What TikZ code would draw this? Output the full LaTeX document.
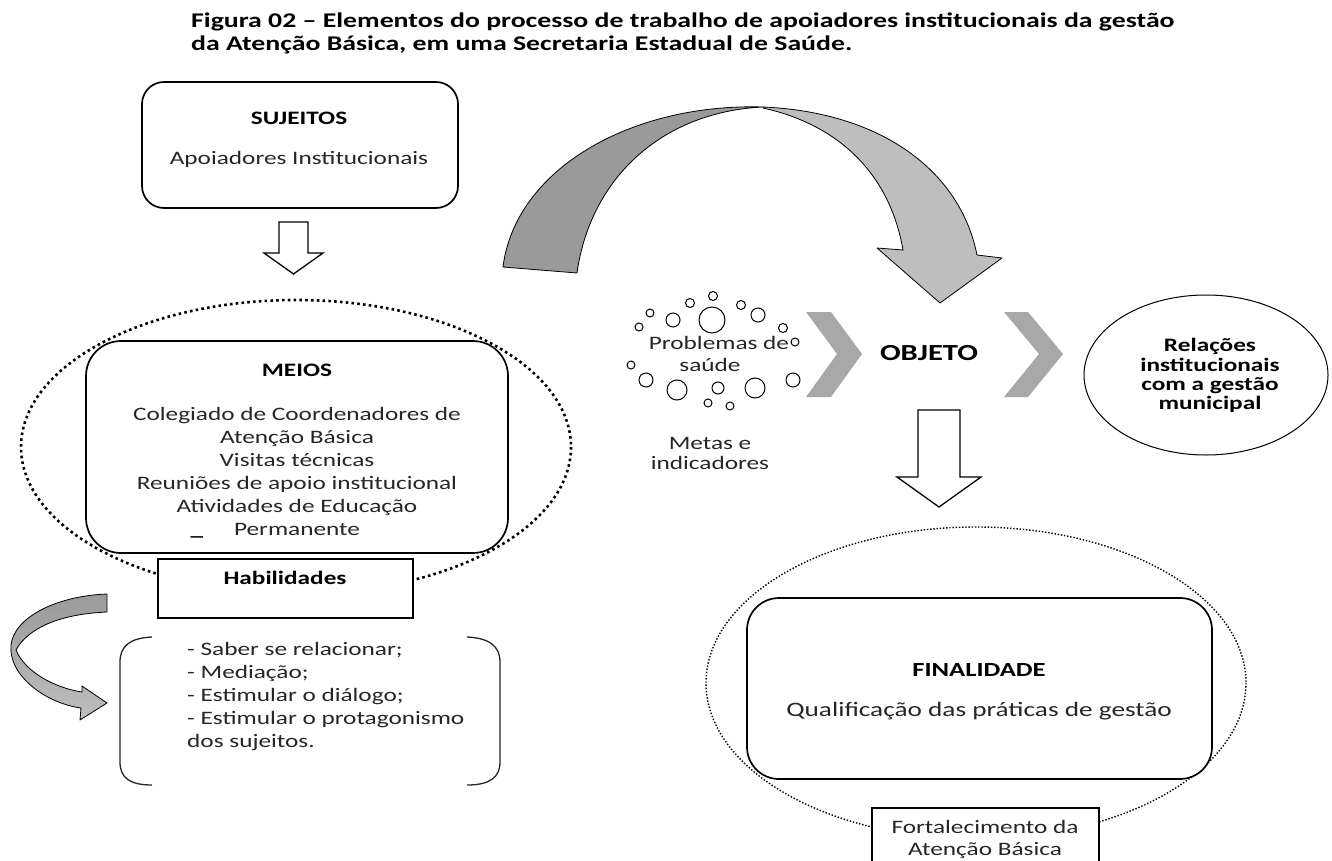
\documentclass[tikz,border=0pt]{standalone}
\usepackage{fontspec}
\setmainfont{Carlito}[FakeStretch=1.33]
\definecolor{arrdark}{HTML}{9A9A9A}
\definecolor{arrlight}{HTML}{BEBEBE}
\definecolor{chevgray}{HTML}{A8A8A8}
\definecolor{txtgray}{HTML}{262626}
\begin{document}
\begin{tikzpicture}[x=1pt,y=-1pt]
\tikzset{
 txt/.style={inner sep=0pt, anchor=base, text=txtgray, font=\fontsize{19}{23}\selectfont},
 btxt/.style={inner sep=0pt, anchor=base, text=black, font=\fontsize{19}{23}\selectfont\bfseries},
 ttxt/.style={inner sep=0pt, anchor=base west, text=black, font=\fontsize{20.9}{24}\selectfont\bfseries},
 rbox/.style={draw, line width=1.7pt, fill=white, rounded corners=#1, inner sep=0pt},
 sbox/.style={draw, line width=1.2pt, fill=white, inner sep=0pt},
 hollow/.style={draw, line width=1.3pt, fill=white, line join=miter},
 bub/.style={draw, line width=1pt, fill=white},
 chev/.style={fill=chevgray},
 bigdots/.style={line width=2.6pt, dash pattern=on 2.6pt off 3.2pt},
 smalldots/.style={line width=1.4pt, dash pattern=on 1.4pt off 1.8pt},
 bandarrow/.style={draw=black, line width=0.8pt, line join=round},
}
\useasboundingbox (0,0) rectangle (1332,861);
\fill[white] (0,0) rectangle (1332,861);

% ---------- title ----------
\node[ttxt] (t1) at (191,28) {Figura 02 – Elementos do processo de trabalho de apoiadores institucionais da gestão};
\node[ttxt] (t2) at (191,51) {da Atenção Básica, em uma Secretaria Estadual de Saúde.};

% ---------- SUJEITOS ----------
\node[rbox=22pt, minimum width=316pt, minimum height=126pt] (suj) at (300,145) {};
\node[btxt] (sujh) at (299,125) {SUJEITOS};
\node[txt] (sujt) at (299,164.5) {Apoiadores Institucionais};

\draw[hollow] (279,222) -- (308,222) -- (308,253) -- (323,253) -- (293.5,274) -- (264,253) -- (279,253) -- cycle;

% ---------- MEIOS ----------
\draw[bigdots] (296,447) ellipse [x radius=275, y radius=147];
\node[rbox=35pt, minimum width=422pt, minimum height=212pt] (meios) at (297,447) {};
\node[btxt] (meiosh) at (297,376) {MEIOS};
\node[txt] (m1) at (297,420) {Colegiado de Coordenadores de};
\node[txt] (m2) at (297,443) {Atenção Básica};
\node[txt] (m3) at (297,466) {Visitas técnicas};
\node[txt] (m4) at (297,489) {Reuniões de apoio institucional};
\node[txt] (m5) at (297,512) {Atividades de Educação};
\node[txt] (m6) at (297,535) {Permanente};
\node[btxt] (mdash) at (197,535) {\_};

\node[sbox, minimum width=255pt, minimum height=59pt] (hab) at (285.5,588.5) {};
\node[btxt] (habt) at (285,584) {Habilidades};

% ---------- curved left arrow ----------
\draw[bandarrow, top color=arrdark, bottom color=arrlight]
  (107,594) .. controls (55,596) and (14,618) .. (11,645)
  .. controls (8,675) and (45,703) .. (81,708)
  -- (80,720) -- (107,703) -- (82,686) -- (82,692)
  .. controls (55,688) and (25,672) .. (16,650)
  .. controls (28,628) and (60,614) .. (107,612) -- cycle;

% ---------- bracket list ----------
\draw[line width=1.3pt, draw=black!85] (152,637) .. controls (130,638) and (120,646) .. (120,662) -- (120,762) .. controls (120,778) and (130,785) .. (152,785);
\draw[line width=1.3pt, draw=black!85] (467,637) .. controls (489,638) and (500,646) .. (500,662) -- (500,762) .. controls (500,778) and (489,785) .. (467,785);
\node[txt, anchor=base west] (h1) at (187,655) {- Saber se relacionar;};
\node[txt, anchor=base west] (h2) at (187,678) {- Mediação;};
\node[txt, anchor=base west] (h3) at (187,701) {- Estimular o diálogo;};
\node[txt, anchor=base west] (h4) at (187,724) {- Estimular o protagonismo};
\node[txt, anchor=base west] (h5) at (187,747) {dos sujeitos.};

% ---------- big curved arrow ----------
\draw[bandarrow, fill=arrdark]
  (503,267) .. controls (515,170) and (630,103) .. (763,107)
  .. controls (660,112) and (590,180) .. (577,273) -- cycle;
\draw[bandarrow, fill=arrlight]
  (763,107) .. controls (880,112) and (960,170) .. (977,255)
  -- (1002,258) -- (940,303) -- (877,248) -- (903,250)
  .. controls (890,175) and (840,125) .. (763,108) -- cycle;

% ---------- bubbles ----------
\foreach \bx/\by/\br in {650/313/4, 639/327/4, 673/320/7, 690/303/4.5, 713/296/4.5, 712/320/13,
  741/305/4.5, 758/315/7, 783/328/4.5, 795/342/4, 631/365/4, 646/380/7, 677/390/10,
  718/388/6, 708/403/4, 730/406/4, 755/388/10, 793/380/7}
  \draw[bub] (\bx,\by) circle[radius=\br];
\node[txt] (prob1) at (719,349) {Problemas de};
\node[txt] (prob2) at (710,371) {saúde};
\node[txt] (metas1) at (710,449) {Metas e};
\node[txt] (metas2) at (710,469) {indicadores};

% ---------- chevrons and OBJETO ----------
\fill[chev] (806,312) -- (831,312) -- (862,354) -- (831,397) -- (806,397) -- (837,354) -- cycle;
\fill[chev] (1004,312) -- (1028,312) -- (1063,354) -- (1028,397) -- (1004,397) -- (1039,354) -- cycle;
\node[btxt, font=\fontsize{23}{27}\selectfont\bfseries] (obj) at (929,360) {OBJETO};

% ---------- Relações ----------
\draw[line width=1pt] (1206,375) ellipse [x radius=122, y radius=80];
\node[btxt] (r1) at (1210,351) {Relações};
\node[btxt] (r2) at (1210,371) {institucionais};
\node[btxt] (r3) at (1210,390) {com a gestão};
\node[btxt] (r4) at (1210,409) {municipal};

\draw[hollow] (918,410) -- (960,410) -- (960,477) -- (981,477) -- (939,507) -- (897,477) -- (918,477) -- cycle;

% ---------- FINALIDADE ----------
\draw[smalldots] (976,683) ellipse [x radius=270, y radius=156];
\node[rbox=32pt, minimum width=465pt, minimum height=181pt] (fin) at (979.5,688.5) {};
\node[btxt, font=\fontsize{20}{24}\selectfont\bfseries] (finh) at (979,676) {FINALIDADE};
\node[txt, font=\fontsize{20.5}{24}\selectfont] (fint) at (979,716) {Qualificação das práticas de gestão};
\node[sbox, minimum width=227pt, minimum height=56pt] (fort) at (985.5,836) {};
\node[txt] (f1) at (985,833) {Fortalecimento da};
\node[txt] (f2) at (985,855) {Atenção Básica};
\end{tikzpicture}
\end{document}
